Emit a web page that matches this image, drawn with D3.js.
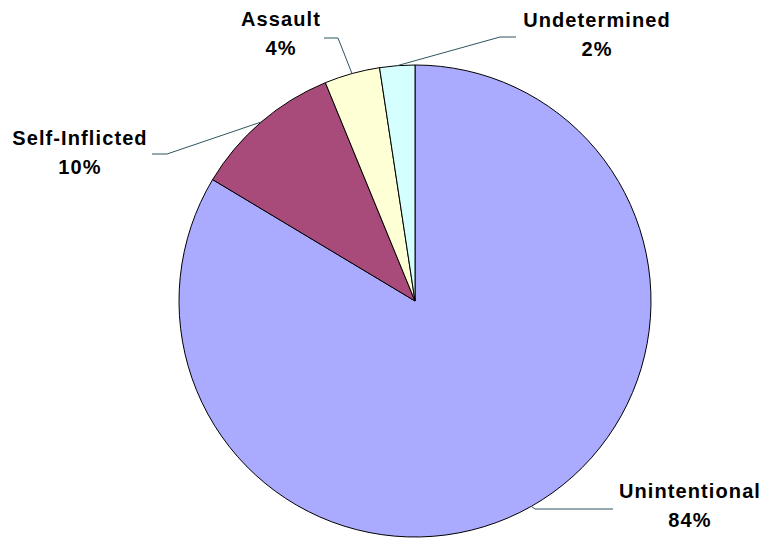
<!DOCTYPE html>
<html>
<head>
<meta charset="utf-8">
<script src="https://cdn.jsdelivr.net/npm/d3@7"></script>
<style>
body{margin:0;background:#fff;}
text{font-family:"Liberation Sans",Arial,sans-serif;font-weight:bold;font-size:20px;letter-spacing:1.1px;fill:#000;}
</style>
</head>
<body>
<svg id="pie" width="765" height="540"></svg>
<script>
const categories=["Unintentional","Self-Inflicted","Assault","Undetermined"];
const values=[83.6,10.2,3.8,2.4];
const colors=["#AAAAFF","#A84A7A","#FFFFD5","#D5FFFF"];
// label centre x, first baseline y, elbow and end of leader line
const labelPos=[
    {x:690,y:498,elbow:[535,509],end:[613,509]},
    {x:80,y:145,elbow:[167,154],end:[152,154]},
    {x:281,y:26,elbow:[338,38],end:[324,38]},
    {x:597,y:27,elbow:[500,37],end:[516,37]}
];

const svg=d3.select("#pie");
const cx=415,cy=301,r=236;
const g=svg.append("g").attr("transform",`translate(${cx},${cy})`);

const data=categories.map((c,i)=>({key:c,value:values[i],color:colors[i],pos:labelPos[i]}));
const total=d3.sum(values);

const pie=d3.pie().value(d=>d.value).sort(null);
const arc=d3.arc().innerRadius(0).outerRadius(r);
const outer=d3.arc().innerRadius(r).outerRadius(r);
const arcs=pie(data);

g.selectAll(".slice")
    .data(arcs)
    .enter()
    .append("path")
    .attr("class","slice")
    .attr("d",arc)
    .attr("fill",d=>d.data.color)
    .attr("stroke","#000")
    .attr("stroke-width",1);

// leader lines
svg.selectAll(".leader")
    .data(arcs)
    .enter()
    .append("polyline")
    .attr("class","leader")
    .attr("points",d=>{
        const c=outer.centroid(d);
        const p=[cx+c[0],cy+c[1]];
        return [p,d.data.pos.elbow,d.data.pos.end].map(q=>q.join(",")).join(" ");
    })
    .attr("fill","none")
    .attr("stroke","#2F5560")
    .attr("stroke-width",1);

const lbl=svg.selectAll(".lbl")
    .data(arcs)
    .enter()
    .append("text")
    .attr("class","lbl")
    .attr("text-anchor","middle");
lbl.append("tspan")
    .attr("x",d=>d.data.pos.x)
    .attr("y",d=>d.data.pos.y)
    .text(d=>d.data.key);
lbl.append("tspan")
    .attr("x",d=>d.data.pos.x)
    .attr("y",d=>d.data.pos.y+28.5)
    .text(d=>Math.round(d.data.value/total*100)+"%");
</script>
</body>
</html>
